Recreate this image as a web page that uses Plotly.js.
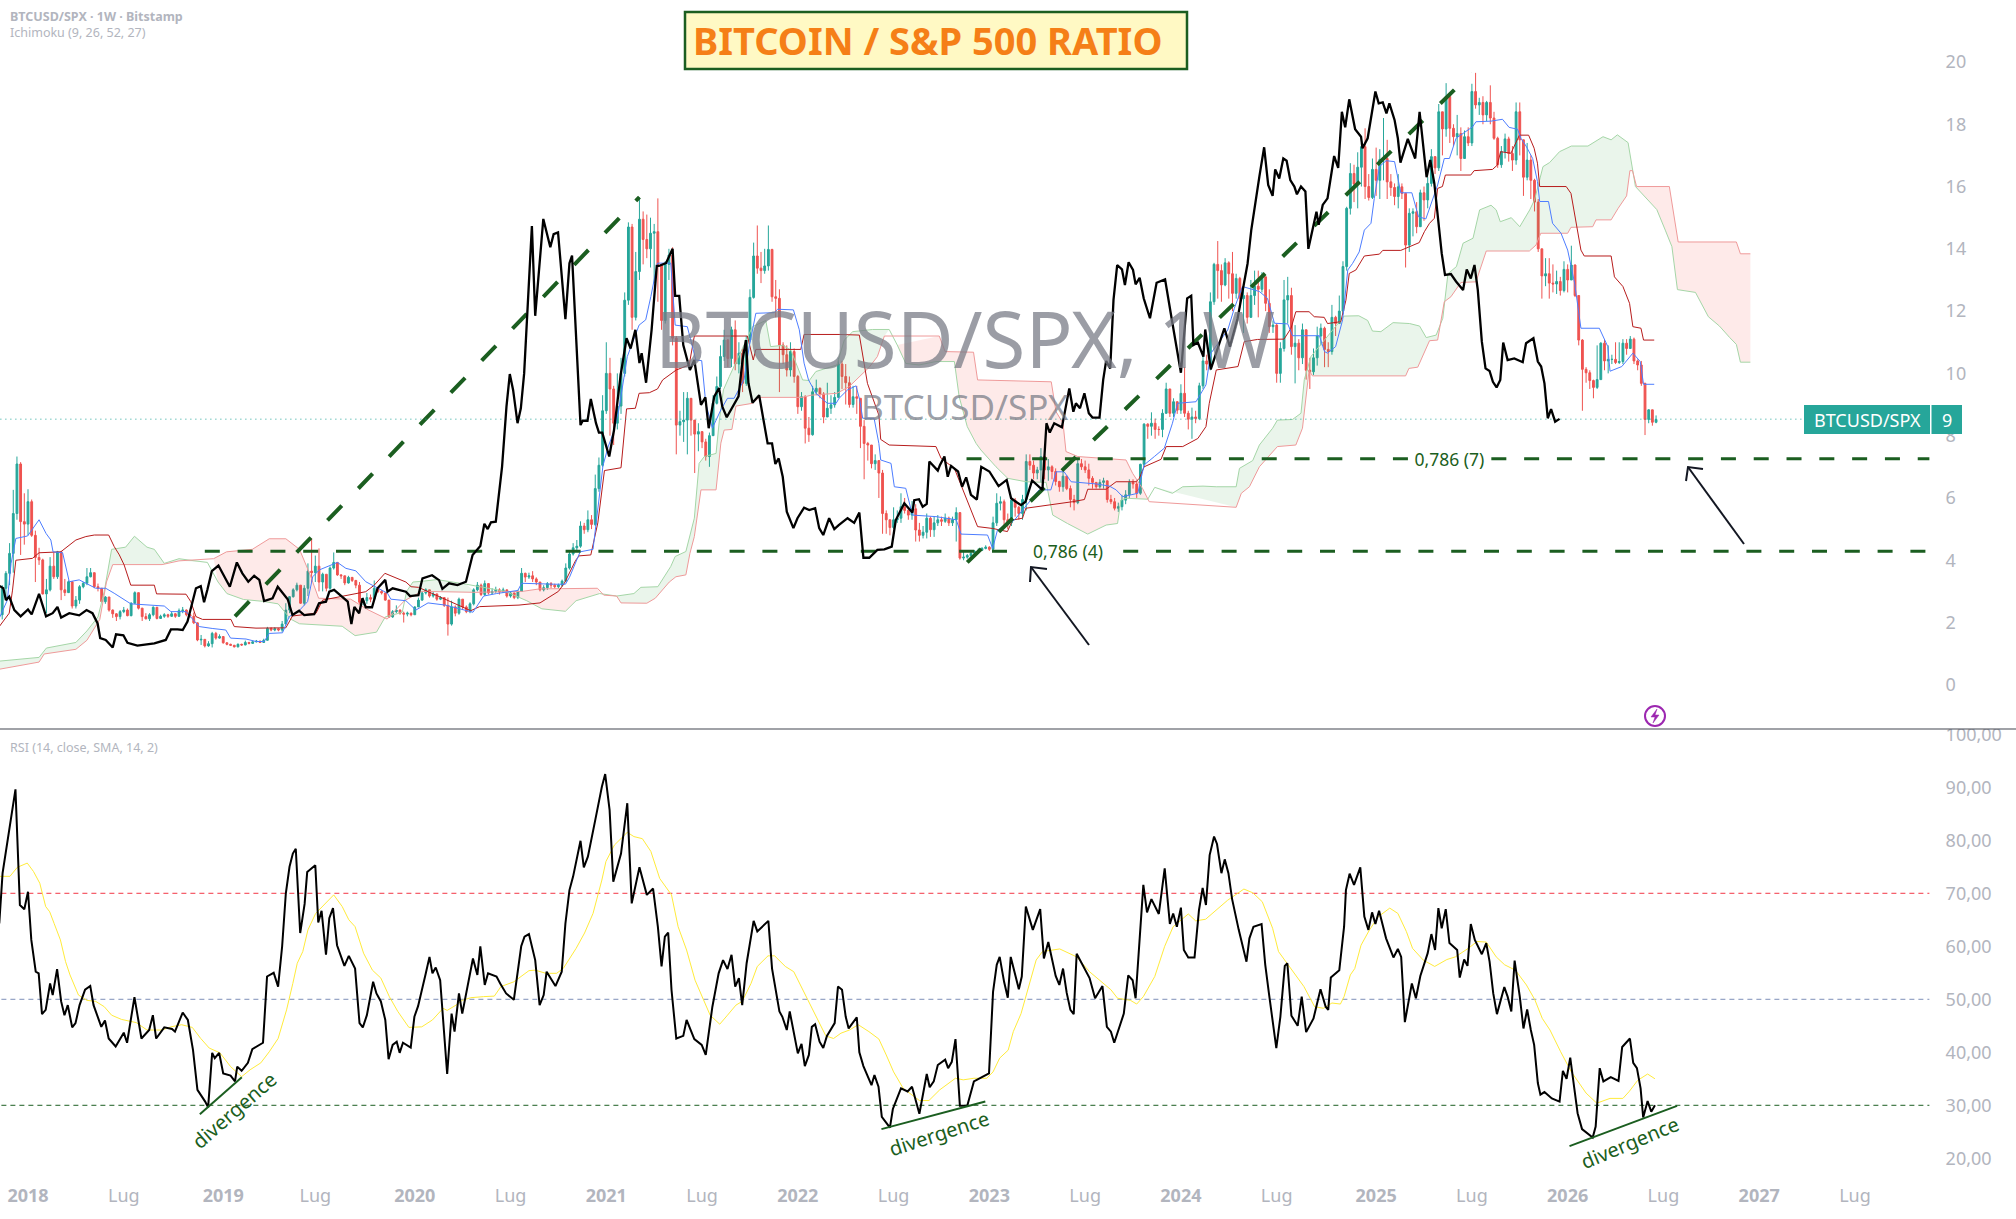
<!DOCTYPE html>
<html>
<head>
<meta charset="utf-8">
<script src="https://cdn.plot.ly/plotly-3.0.1.min.js"></script>
<style>html,body{margin:0;padding:0;background:#fff}#chart{width:2016px;height:1219px}</style>
</head>
<body>
<div id="chart"></div>
<script>
// All series are indexed by week number, week 0 = 2017-11-13.
const WEEK0 = Date.UTC(2017, 10, 13);
const toDate = (k) => new Date(WEEK0 + k * 7 * 864e5).toISOString();

// candles, ten per line
const closes = [
  3.1,3.58,4.22,5.5,7.09,5.24,5.16,5.88,4.8,4.09,
  4.01,2.92,3.05,3.81,3.47,4.27,3.05,2.96,3.31,2.53,
  2.72,3.15,3.26,3.47,3.6,3.15,3.1,2.67,2.82,2.4,
  2.28,2.19,2.35,2.4,2.22,2.62,2.96,2.46,2.19,2.12,
  2.25,2.49,2.13,2.2,2.25,2.2,2.28,2.2,2.38,2.4,
  2.25,2.2,1.99,1.44,1.46,1.25,1.32,1.65,1.5,1.55,
  1.35,1.3,1.27,1.22,1.3,1.28,1.36,1.33,1.38,1.4,
  1.36,1.43,1.81,1.76,1.8,1.76,1.95,2.4,2.83,3.05,
  3.2,2.62,3.1,3.65,3.6,3.81,3.3,3.55,3.1,3.75,
  3.93,3.53,3.5,3.27,3.45,3.35,3.2,2.65,2.7,2.8,
  2.75,3.1,3.0,2.95,2.72,2.18,2.35,2.4,2.3,2.27,
  2.3,2.25,2.5,2.72,2.95,3.05,2.85,2.92,2.75,2.8,
  2.55,1.95,2.5,2.3,2.75,2.5,2.35,2.6,3.05,3.2,
  2.9,3.25,2.95,3.0,3.05,2.98,3.05,2.85,2.95,2.8,
  3.0,3.58,3.46,3.5,3.4,3.3,3.05,3.12,3.25,3.2,
  3.15,3.2,3.33,3.75,4.2,4.4,4.45,5.1,4.98,5.3,
  5.15,6.3,7.05,8.8,10.0,9.5,8.4,8.95,10.0,12.35,
  14.7,11.8,13.27,14.95,14.3,14.0,14.5,14.55,13.5,11.7,
  13.5,13.8,11.13,8.34,8.45,8.5,9.2,8.5,8.05,8.13,
  7.8,7.33,8.0,9.04,9.58,10.54,11.07,10.48,11.4,10.3,
  10.65,9.68,11.07,12.44,13.77,13.38,13.3,13.45,13.98,12.46,
  12.41,10.91,10.6,10.11,10.7,9.9,8.93,9.25,8.24,8.03,
  9.41,9.52,9.34,8.6,8.88,8.99,9.23,10.3,9.9,9.7,
  9.0,9.25,9.2,8.3,7.75,7.7,7.1,7.2,6.8,5.5,
  5.3,5.05,5.3,5.35,5.72,5.6,5.45,5.65,4.97,4.8,
  4.9,5.35,4.98,5.2,5.3,5.25,5.35,5.2,5.3,5.53,
  4.07,4.1,4.15,4.22,4.28,4.32,4.38,4.42,4.35,5.2,
  5.83,5.88,5.3,5.2,5.93,5.7,5.5,5.95,7.17,7.05,
  6.8,6.9,7.33,6.9,7.0,6.85,6.53,6.36,6.7,6.3,
  5.95,5.85,7.1,7.0,6.9,6.63,6.5,6.36,6.5,6.55,
  5.95,5.88,5.67,5.72,5.93,6.1,6.5,6.45,6.15,7.08,
  8.37,8.3,8.4,8.2,8.2,8.72,9.5,8.72,9.09,8.82,
  9.36,8.72,8.53,8.6,8.55,9.6,10.4,10.3,12.3,13.5,
  13.3,12.84,13.55,13.2,12.57,13.05,12.4,12.5,11.8,12.5,
  12.8,12.7,13.1,12.25,11.5,11.55,10.0,10.8,12.36,12.5,
  10.86,10.97,10.5,11.4,10.1,10.05,10.5,11.2,11.45,10.77,
  10.7,11.8,11.6,12.0,13.43,15.3,16.42,16.08,16.62,17.28,
  16.0,15.65,16.55,16.2,16.87,16.9,16.15,15.97,15.68,15.99,
  15.78,14.12,15.14,15.19,14.71,15.8,15.57,16.1,16.96,16.6,
  18.4,17.85,18.89,17.87,17.6,17.7,16.9,17.6,17.4,19.05,
  18.62,18.7,18.3,18.7,18.2,17.55,16.7,17.12,17.53,17.06,
  16.85,18.4,17.5,16.3,16.85,16.2,15.5,14.0,13.13,13.2,
  12.9,12.87,12.95,12.66,13.34,13.0,13.48,12.5,11.07,10.13,
  10.02,9.77,9.55,9.8,10.97,10.4,10.45,10.45,10.35,10.38,
  10.97,10.8,11.1,10.4,10.27,9.68,8.52,8.83,8.43,8.52
];
const highs = [
  3.2,3.65,4.55,6.26,7.33,7.15,6.15,6.28,5.95,4.95,
  4.4,4.05,3.4,4.1,4.25,4.3,4.3,3.4,3.35,3.3,
  2.85,3.2,3.3,3.75,3.75,3.6,3.25,3.1,2.85,2.82,
  2.42,2.3,2.4,2.5,2.45,2.65,3.0,2.96,2.47,2.3,
  2.3,2.52,2.5,2.25,2.3,2.28,2.35,2.3,2.45,2.5,
  2.42,2.28,2.32,2.0,1.6,1.46,1.4,1.7,1.7,1.62,
  1.55,1.36,1.32,1.28,1.33,1.32,1.42,1.38,1.42,1.44,
  1.42,1.48,1.86,1.85,1.85,1.82,2.05,2.62,2.85,3.1,
  3.28,3.2,3.2,3.9,4.7,4.15,4.38,3.6,3.55,3.8,
  4.25,3.93,3.55,3.5,3.5,3.45,3.37,3.3,2.8,2.95,
  2.9,3.35,3.12,3.05,2.95,2.72,2.4,2.55,2.42,2.35,
  2.35,2.32,2.52,2.8,3.0,3.1,3.05,2.98,2.92,2.85,
  2.82,2.8,2.7,2.55,2.8,2.75,2.55,2.65,3.1,3.3,
  3.25,3.35,3.25,3.1,3.15,3.1,3.12,3.05,3.0,2.95,
  3.05,3.75,3.6,3.6,3.65,3.45,3.3,3.2,3.3,3.3,
  3.25,3.25,3.38,3.9,4.3,4.55,4.65,5.25,5.2,5.6,
  5.45,6.75,7.3,9.3,11.0,10.5,9.6,10.0,10.5,12.6,
  14.85,14.8,13.9,15.65,15.2,15.1,15.0,14.8,15.62,13.5,
  13.6,14.0,14.05,11.2,8.8,9.4,9.4,9.2,8.5,8.4,
  8.15,7.9,8.1,9.3,9.9,10.9,11.4,11.1,11.5,11.7,
  11.0,10.8,11.2,12.7,14.2,14.75,13.9,14.0,14.75,14.0,
  13.0,12.7,11.0,10.9,11.0,10.8,9.95,9.4,9.3,8.6,
  9.6,9.8,9.55,9.4,9.7,9.3,9.4,10.5,10.4,10.3,
  9.9,9.6,9.6,9.2,8.5,7.8,7.7,7.4,7.2,6.9,
  5.6,5.3,5.7,5.6,6.15,6.0,5.7,5.9,5.8,5.2,
  5.1,5.5,5.4,5.4,5.45,5.4,5.5,5.4,5.4,5.7,
  5.53,4.3,4.2,4.28,4.33,4.38,4.42,4.48,4.45,5.4,
  6.15,6.05,5.95,5.5,6.0,6.0,5.75,6.1,7.4,7.4,
  7.2,7.0,7.6,7.4,7.25,7.05,6.95,6.55,6.9,6.7,
  6.4,6.1,7.25,7.25,7.2,7.1,6.7,6.5,6.6,6.65,
  6.5,6.1,6.0,5.85,6.1,6.25,6.6,6.6,6.55,7.1,
  8.4,8.4,8.75,8.55,8.3,8.85,9.7,9.5,9.2,9.1,
  9.65,10.2,8.8,8.9,8.8,9.7,10.7,10.6,12.6,13.55,
  14.25,13.5,13.7,13.6,13.9,13.2,13.1,12.75,12.6,13.0,
  13.3,13.3,13.25,13.1,12.7,11.7,11.6,11.0,13.0,13.1,
  12.75,11.55,11.1,11.6,11.4,10.5,10.8,11.5,11.6,11.5,
  11.0,12.2,11.85,12.5,13.6,15.35,16.75,16.7,17.1,17.4,
  17.87,16.4,16.9,17.25,17.2,18.2,17.5,16.4,16.1,16.4,
  16.1,15.8,15.3,15.3,15.5,15.9,16.0,16.3,17.2,16.95,
  18.65,18.4,19.32,18.9,18.0,18.3,17.9,17.8,17.9,19.3,
  19.65,18.85,18.9,18.75,19.25,18.4,17.6,17.3,17.7,17.6,
  17.3,18.7,18.7,17.4,17.4,17.0,16.25,15.6,14.0,13.7,
  13.7,13.5,13.3,13.1,13.6,13.5,14.1,13.5,12.5,11.1,
  10.2,10.1,9.8,10.9,11.0,11.1,10.9,10.6,11.0,11.0,
  11.1,11.1,11.2,11.15,10.45,10.4,9.7,8.85,8.8,8.65
];
const lows = [
  2.1,2.75,3.2,3.6,5.3,4.17,4.5,4.8,4.75,3.3,
  3.85,2.9,2.3,3.0,3.4,3.4,2.72,2.85,2.95,2.45,
  2.45,2.6,3.1,3.2,3.45,3.1,3.0,2.65,2.6,2.35,
  2.15,2.05,2.1,2.3,2.2,2.2,2.6,2.42,2.05,2.1,
  2.05,2.2,2.1,2.12,2.15,2.15,2.18,2.15,2.18,2.3,
  2.2,2.15,1.95,1.4,1.28,1.2,1.22,1.2,1.45,1.48,
  1.32,1.27,1.25,1.2,1.2,1.25,1.27,1.3,1.32,1.36,
  1.34,1.35,1.42,1.72,1.72,1.72,1.7,1.95,2.3,2.8,
  3.0,2.6,2.55,2.85,3.3,3.3,3.0,3.0,3.0,3.05,
  3.7,3.5,3.4,3.2,3.25,3.3,3.1,2.6,2.55,2.6,
  2.65,2.7,2.95,2.9,2.7,2.15,2.15,2.3,2.25,2.0,
  2.2,2.2,2.25,2.5,2.7,2.9,2.8,2.8,2.7,2.72,
  2.5,1.58,1.9,2.2,2.25,2.4,2.3,2.3,2.55,3.0,
  2.85,2.85,2.9,2.9,2.95,2.9,2.95,2.8,2.8,2.75,
  2.75,3.0,3.3,3.4,3.3,3.2,3.0,3.0,3.05,3.1,
  3.1,3.1,3.15,3.3,3.7,4.15,4.3,4.4,4.85,4.9,
  5.0,5.1,6.2,7.0,8.7,8.0,7.7,8.2,8.7,9.9,
  12.2,11.4,11.7,13.0,13.5,13.7,13.4,12.9,12.3,11.4,
  11.6,13.0,10.9,7.4,8.0,7.8,7.4,8.0,6.8,7.5,
  7.6,7.2,7.0,8.0,9.0,9.5,10.4,10.2,10.2,10.1,
  10.0,9.4,9.6,11.0,12.4,13.2,12.9,13.2,13.3,12.3,
  11.8,9.4,10.3,9.9,9.9,9.7,8.7,8.8,7.75,7.8,
  8.0,9.3,9.2,8.4,8.6,8.7,8.9,9.2,9.5,9.0,
  8.9,8.9,8.7,7.6,6.6,7.2,6.95,6.9,6.0,4.85,
  4.85,4.8,5.0,5.2,5.2,5.5,5.3,5.3,4.6,4.6,
  4.7,4.7,4.75,4.75,5.1,5.1,5.2,5.1,5.1,4.6,
  4.02,4.0,4.05,4.1,4.2,4.25,4.3,4.35,4.3,4.3,
  5.1,5.6,5.1,5.0,5.1,5.4,5.3,5.3,5.6,6.9,
  6.6,6.6,6.5,6.6,6.55,6.6,6.4,6.2,6.2,6.25,
  5.7,5.6,5.8,6.9,6.8,6.4,6.3,6.3,6.3,6.3,
  5.85,5.8,5.6,5.55,5.6,5.8,6.0,6.3,6.0,6.1,
  7.0,7.9,8.0,7.9,8.0,7.95,8.7,8.6,8.6,8.7,
  8.7,8.6,8.2,7.9,8.4,8.5,9.5,10.1,10.1,12.2,
  12.4,12.3,12.8,12.4,12.0,12.4,12.1,11.3,11.6,11.9,
  12.2,11.8,12.6,12.0,11.3,11.3,9.7,9.7,10.7,11.6,
  10.6,9.68,10.1,10.3,9.8,9.5,9.95,10.25,10.9,10.2,
  10.2,10.6,11.2,11.6,11.9,13.3,15.1,15.5,15.3,16.0,
  15.6,15.55,15.6,15.7,15.6,16.2,15.6,15.7,15.4,15.3,
  15.6,13.4,13.9,14.4,14.5,14.9,14.9,15.3,16.0,16.4,
  16.5,17.0,17.6,17.4,17.3,17.0,16.5,16.9,17.3,17.3,
  18.5,18.3,18.0,18.1,18.0,17.5,16.6,16.6,16.9,16.8,
  16.5,16.7,17.0,15.7,16.2,15.6,15.2,13.9,12.4,12.8,
  12.4,12.6,12.55,12.5,12.6,12.6,13.0,12.45,10.9,8.8,
  9.7,9.5,9.2,9.5,9.8,10.1,10.0,10.3,10.3,10.3,
  10.3,10.6,10.8,10.3,10.1,9.6,8.02,8.4,8.32,8.4
];
const firstOpen = 2.25;
const candleWeeks = closes.map((_, i) => i);
// weekly bars open where the last one closed
const opens = closes.map((_, i) => (i ? closes[i - 1] : firstOpen));

// black overlay line
const overlayWeeks = [-0.8,0.3,1,1.9,3.3,5,7,8,10,11.9,13.7,15,16,18.2,20.9,22.9,24.5,25.9,26.6,28.1,30,30.9,32.9,34,36.7,41.3,44.4,45.8,47.6,49,50.3,51.2,52.6,53.9,54.8,55.7,56.9,58.7,59.8,61.8,63.7,65.2,66.8,68.4,69.8,71.1,73.4,74.8,77.5,78.8,80.6,82,84.7,86,87.9,88.8,90.1,91,93.8,94.8,95.6,96.9,97.8,98.7,100.4,101.9,104,104.6,106,109.6,110.7,113,114.1,116.7,118.6,119.5,121.3,123.6,125.9,127.7,129.8,130.9,131.8,132.7,134,135.7,136.9,137.8,138.7,139.9,140.8,141.7,143.8,144.7,146.9,148.8,149.7,150.9,152.9,154,154.7,157,157.6,158.9,159.8,161.2,162,162.9,163.8,164.8,166.1,167.9,169.5,170.6,171.9,173,173.6,174.8,176.3,177.7,178.3,180.2,182,182.7,183.8,184.9,186.7,187.9,189.7,190.9,191.8,193.3,194.6,195.5,196.7,198.7,199.9,201,201.9,202.6,203.7,205.5,206.9,207.8,209,209.9,210.8,211.9,213,214.8,215.9,217.7,219.1,220.7,221.8,222.9,224.5,225.9,227.1,229.5,231.3,232.7,233.8,235.4,237.6,239.5,241.5,242.6,244.9,247.1,247.6,248.9,249.9,251,251.7,254,254.6,255.8,256.7,257.6,259.5,260.6,261.7,263,264.6,265.8,268,270.5,272.7,273.9,275.2,276.6,277.8,279.6,282.4,283.5,284.4,285.6,287.7,289.7,290.8,291.5,292.6,293.8,295,296,297.9,298.9,299.7,300.8,301.7,302.7,304,304.8,305.8,307,307.7,308.8,309.9,311.6,313.4,315.7,317.7,320,321.7,322.8,323.4,324.6,326.1,326.6,328.1,331.8,333.3,335.4,338.1,339.1,341.3,342.6,343.7,344.9,345.6,346.7,347.8,348.7,349.7,350.8,351.5,352.6,353.8,354.6,356.8,357.4,358.5,359.8,361.6,362.7,363.7,364.6,365.7,367.3,368.9,369.3,370.7,372.8,373.7,374.8,375.8,376.6,378,378.9,379.6,381.6,383.6,384.8,386.7,387.7,388.8,389.7,390.8,391.7,393.3,394.7,396.6,397.6,398.7,399.7,400.6,401.7,402.7,403.8,404.7,405.7,406.7,407.5,408.7,410.5,412.8,413.7,415.7,416.9,417.8,418.7,419.6,420.5,421.6,422.8];
const overlayVals = [3.18,3.1,2.72,2.83,2.4,2.2,2.42,2.26,2.92,2.2,2.3,2.5,2.16,2.3,2.23,2.4,2.3,1.97,1.5,1.44,1.2,1.62,1.59,1.35,1.26,1.33,1.44,1.78,1.78,1.76,2.03,2.46,3.1,3.17,2.65,3.05,3.65,3.83,3.58,3.15,3.93,3.58,3.31,3.5,3.37,2.69,2.78,3.15,2.75,2.24,2.38,2.24,2.27,2.62,2.67,2.99,3.05,2.96,2.67,1.95,2.5,2.3,2.78,2.49,2.49,3.1,3.37,2.99,3.1,2.99,2.85,2.88,3.42,3.52,3.36,3.08,3.26,3.2,3.31,4.17,4.46,5.17,5.0,5.22,5.24,7.0,8.93,9.98,9.47,8.4,8.88,10.0,14.73,11.85,14.96,14.05,14.47,14.53,11.74,13.54,13.78,8.34,8.48,8.48,9.18,8.4,8.1,8.1,7.7,7.33,8.18,9.95,11.13,10.8,11.4,10.33,10.65,9.7,11.4,13.45,13.45,13.54,14.0,12.49,12.49,10.91,10.11,10.43,8.99,9.23,8.24,9.25,9.53,8.93,8.59,8.99,9.26,10.43,11.07,9.68,9.06,9.3,8.29,7.75,7.75,7.09,7.27,6.68,5.56,5.03,5.35,5.69,5.61,5.67,5.03,4.81,5.35,5.0,5.13,5.35,5.2,5.53,4.08,4.08,4.33,4.35,4.44,5.29,5.83,5.53,5.93,5.96,5.72,5.81,7.17,6.88,7.06,7.33,6.68,7.03,6.85,6.36,6.66,6.1,5.95,7.0,6.85,6.38,6.58,5.99,5.88,5.77,5.88,6.56,6.26,8.4,8.1,8.4,8.27,9.52,8.77,9.04,8.88,9.36,8.72,8.58,8.58,9.79,10.4,10.16,12.36,13.48,13.34,12.84,13.57,13.32,12.86,13.07,12.41,11.77,12.91,13.02,11.61,10.02,12.41,12.49,10.91,10.99,10.54,11.41,10.13,11.45,10.86,11.77,13.53,14.6,16.32,17.26,16.05,15.7,16.55,16.26,16.9,16.83,16.21,16.0,15.75,16.0,15.84,14.0,15.19,14.77,15.41,15.62,16.98,16.6,18.4,17.9,18.8,17.84,17.6,17.23,17.55,19.05,18.67,18.7,18.35,18.67,18.14,17.55,16.77,17.53,16.9,18.4,16.3,16.85,16.1,15.14,13.86,13.16,13.19,12.95,12.68,13.34,13.05,13.48,12.68,11.02,10.16,10.08,9.73,9.55,9.79,10.99,10.43,10.48,10.36,10.97,11.13,10.38,10.22,9.68,8.56,8.85,8.45,8.54];

// ichimoku
const tenkanWeeks = [-0.8,1.4,2.4,3.7,6.9,10,11.9,13.2,13.8,16.4,18.2,20.9,25.4,28.1,30.4,34.9,44,45.8,49.9,53.5,57,60.7,62,66.2,68.9,71.1,72.5,76.1,77.9,80.6,82.9,84.3,86.1,91,93.3,96,98.7,101.4,104.6,105.5,109.6,112.3,115.6,120.3,127.8,130.7,134.2,140,141,150,152.9,154,156.9,160.4,161.6,163.1,164.5,165.9,167.4,169.7,172.9,174.7,176.1,177.9,181.5,182.7,186,188.3,189.9,191,192.8,195.1,196.9,198.7,201.4,202.8,204.6,209.6,210.5,214.8,216.4,217.7,218.9,220.9,224,226.4,227.2,229.5,231.8,232.8,233.6,236.7,238,238.5,241.3,242.2,245.3,247.1,253.5,259,260.3,267.5,268.9,270.2,274.8,281.5,284.7,286.1,288.3,290.2,297,300.6,302.4,304.2,308.3,310,312.8,315.5,317.7,319.1,324.1,326.8,328.1,332.7,334.5,336.7,341.3,343.5,345.4,349,350.3,357.6,359,359.8,362,363.9,365.3,366.6,368.4,369.8,371.6,372.5,373.9,375.7,378,379.1,379.7,382.7,384.5,386.5,387.9,389.7,391.5,392.9,394.7,399.2,400.1,404.2,407.3,409.1,411.4,412.3,413.7,415.5,416.8,417.4,419.8,420.9,423.2,425,426.9,428.6,433.6,435.9,436.5,439.7,442.7,444.7,445.6,448.5];
const tenkanVals = [2.14,2.72,3.9,4.7,4.78,5.3,4.86,4.65,4.27,4.24,3.31,3.37,3.1,3.1,2.94,2.6,2.53,2.35,2.35,1.87,1.81,1.76,1.5,1.47,1.39,1.39,1.65,1.67,2.19,2.38,2.67,3.47,3.69,3.93,3.74,3.66,3.31,3.15,2.94,2.75,2.7,2.4,2.63,2.56,2.33,2.85,2.93,3.03,3.26,3.23,3.23,3.45,4.27,4.35,5.55,7.04,7.64,8.09,8.83,10.54,11.55,11.72,12.47,13.54,13.54,11.55,11.5,10.43,10.41,9.04,8.24,8.83,9.2,9.2,9.8,10.86,11.93,11.95,12.06,12.04,11.4,10.33,9.79,9.36,9.04,9.04,9.2,9.47,9.6,9.15,8.56,8.56,7.75,7.22,7.11,6.36,6.31,5.45,5.4,5.3,4.84,4.81,4.38,4.97,5.29,6.26,6.26,6.84,6.84,6.52,6.45,6.38,6.26,6.04,6.15,7.06,7.33,7.6,8.4,9.04,9.09,9.63,10.64,11.39,12.09,12.79,12.63,12.41,11.61,11.59,11.21,11.21,10.7,10.65,10.86,11.72,13.32,13.53,13.9,14.6,14.82,15.62,16.64,16.83,16.8,16.2,15.8,15.8,15.03,14.96,15.46,16.05,16.9,16.9,17.55,17.92,18.08,18.1,18.16,17.9,17.84,17.55,17.3,16.9,16.16,15.52,15.52,14.82,14.5,13.96,12.89,11.45,11.45,10.86,10.07,10.22,10.65,10.38,9.65,9.65];
const kijunWeeks = [-0.8,1.9,2.8,3.7,8.2,10,15.9,20,22.7,25,28.9,30.4,31.8,33.1,34.9,41.3,41.9,49.9,51.2,52.6,54.4,62.1,63,68.9,77,78.8,85.2,87,98.7,101,103.9,109.6,111,113,127.2,129.6,140.3,146,151,152.6,155.7,156.6,159.8,161.7,163.5,168,169.5,171.9,172.9,175.7,177.9,179.3,183,186.5,187.9,202.3,203.9,204.6,216.8,217.7,227.2,232.7,234.9,238,238.5,240.8,253.5,254.9,258.5,262,264.8,268.9,272.9,274.3,277,277.9,284.7,290.6,293.8,294.7,299.7,302.4,307.8,308.7,310,314.6,316,320.5,324.6,326.8,327.7,329.6,335.5,337.2,340.8,348,349.9,351.2,354.8,356.2,358.9,359.8,363.4,364.8,365.7,367.5,369.8,373.9,374.8,379.7,384.7,386.1,387.5,388.8,389.7,391,391.8,398.7,399.6,404.6,405.9,406.8,409.6,411.9,414.4,415.9,416.8,417.4,424.6,425.9,428.6,429.5,436.8,437.7,440,441.8,442.7,444.9,445.6,448.5];
const kijunVals = [1.87,2.3,3.04,4.0,4.06,4.24,4.27,4.65,4.76,4.81,4.81,4.44,4.17,3.85,3.2,3.2,2.92,2.91,2.67,2.19,2.1,2.1,1.87,1.82,1.83,2.21,2.3,2.72,2.99,3.2,3.58,3.3,3.15,3.13,2.38,2.51,2.56,2.63,3.0,3.26,4.0,4.14,4.17,5.2,6.88,6.97,8.86,8.88,9.36,9.38,9.5,9.79,10.11,10.27,11.2,11.2,10.43,10.77,10.77,11.25,11.25,11.23,9.68,8.66,7.88,7.7,7.65,7.27,6.95,5.88,5.08,5.02,4.92,5.29,5.35,5.67,5.77,5.88,5.95,6.28,6.28,6.52,6.52,6.63,7.0,7.24,7.65,7.65,7.91,8.29,9.04,10.11,10.22,11.02,11.09,11.1,11.45,11.98,11.98,11.82,11.8,11.6,11.66,12.35,13.21,13.32,13.77,13.83,13.95,13.95,14.2,14.55,14.82,14.98,15.94,16.0,16.37,16.37,16.51,16.55,16.69,17.12,17.07,17.65,17.65,17.23,16.75,16.0,16.0,15.78,13.96,13.77,13.77,13.1,12.79,12.25,11.5,11.45,11.07,11.07];
const spanAWeeks = [-0.8,10,12,20,23,26,27.7,29.7,33.5,35.9,39.3,41.3,44,48,51,55.7,58.6,61,65.5,70.8,74.9,78.3,80.7,92.3,95.8,101.6,104,108.6,109.8,111.5,114.4,118,126,136.6,142.4,146.5,152.9,155.8,162.2,166.8,171.5,173.4,178,181.5,182.7,185.6,187.9,189.2,190.6,193.8,194.7,195.8,197.4,203.7,207.3,208.6,211.9,214.1,217.3,219.1,220.9,226.6,228.6,230.9,236.3,240.8,243,245.3,248.9,253.5,258.5,259.8,262,264.4,265.7,269.8,273,278,283.4,285.2,289.2,294.7,299.7,302.8,303.7,305.1,311,312.9,317.7,320.5,326,329.6,335,335.9,339.5,341.3,344.9,346.2,350.3,352.6,353.5,355.3,364.3,368.3,370.7,372,374.3,377.6,382.1,384.8,386.6,389.3,391.1,392.5,394.8,396.6,399.3,401.1,404.2,405.6,406.7,409.7,412,414.7,416,418.3,420.1,422.8,426,430.5,434.6,436.8,438.5,441.4,443.4,445.7,449.2,451.5,453.3,454.8,459.7,463.2,466.2,469,470.8,471.9,474.6];
const spanAVals = [0.76,0.88,1.18,1.36,1.73,2.18,3.0,4.35,4.42,4.77,4.42,4.35,3.9,4.05,4.0,3.93,3.3,2.93,2.74,2.68,2.6,2.11,1.96,1.88,1.58,1.69,2.18,2.33,3.0,3.3,3.33,3.38,3.23,3.0,2.7,2.44,2.36,2.7,2.93,2.85,2.93,3.13,3.15,3.8,4.12,4.28,5.35,7.11,7.33,7.43,8.5,9.47,9.9,11.5,11.7,10.86,10.9,10.75,9.79,9.77,10.06,10.27,11.07,11.34,11.41,11.41,10.91,10.32,10.27,10.38,10.38,9.25,8.29,7.75,7.54,7.0,6.63,6.52,6.5,5.45,5.18,4.84,5.13,5.18,5.93,5.99,5.96,6.34,6.15,6.36,6.38,6.36,6.36,6.95,7.2,7.7,8.24,8.5,8.52,8.72,9.8,10.54,11.84,11.85,11.7,11.36,11.34,11.63,11.6,11.52,11.15,11.23,11.77,13.2,13.43,14.18,14.34,15.25,15.4,15.25,14.87,15.0,14.71,15.25,15.57,16.64,16.77,17.12,17.3,17.3,17.6,17.5,17.66,17.41,16.0,15.7,15.26,14.6,14.07,12.69,12.6,11.82,11.52,11.15,10.93,10.36,10.36];
const spanBWeeks = [-0.8,10,11.4,20,23,26.5,28.3,30,43.4,48,57.4,60.9,67.9,72.5,77,80.7,83.6,85.9,94.6,99.3,104.5,109.2,113.9,128.4,141.2,145.9,161.6,163.3,166.8,168,175,177.3,181.1,182.9,185.6,186.7,187.9,189.7,193.8,195.1,196,198.1,199.2,202.3,203.7,205.5,217.3,219.6,226.6,229.9,232.7,235.4,237.6,239.5,254.4,256,263.7,264.8,284.8,286.1,288,288.8,292,305.1,306.9,309.6,311.4,335,336.4,338.6,341.3,346.2,351.2,353,354.8,355.7,381,381.9,384.3,386.4,387.5,389.7,391.5,393.3,396,400.1,401.4,402.9,414.6,416.4,417.7,425,425.9,431.8,432.7,436.8,438.7,441,441.9,442.6,443.7,452.6,455,470.8,471.9,474.6];
const spanBVals = [0.5,0.73,0.99,1.14,1.43,2.1,3.3,3.86,3.86,3.98,4.05,4.27,4.35,4.69,4.69,4.35,3.53,2.78,2.75,2.41,2.11,2.7,3.0,2.97,3.0,3.08,3.1,2.88,2.85,2.63,2.62,2.78,3.3,3.47,3.53,4.22,4.76,6.26,6.26,7.76,8.18,8.2,8.95,9.0,9.04,9.23,9.23,9.3,9.36,9.57,9.9,10.2,10.54,11.2,11.2,10.7,10.68,9.79,9.73,8.77,8.4,7.49,7.33,7.22,6.79,6.3,5.88,5.7,6.15,6.36,7.0,7.65,7.7,8.24,10.1,9.92,9.92,10.16,10.2,10.75,11.05,11.07,12.3,12.46,12.92,12.94,13.43,13.93,13.93,14.12,14.5,14.5,14.69,14.71,14.93,14.93,15.3,15.7,16.51,16.51,16.0,16.0,14.22,14.22,13.84,13.84];
// week spans of the cloud and which colour it has there
const cloudFrom = [-0.8,44,56,109,136,163,242,311.5,443];
const cloudTo = [44,56,109,136,163,242,311.5,443,474.6];
const cloudGreen = [true,true,false,true,false,true,false,true,false];

// rsi pane
const rsiWeeks = [-0.8,0.1,3.6,4.8,6,7,7.9,9.1,9.9,10.8,11.8,13,13.7,14.9,16,16.9,17.8,19,19.9,21,22.5,23.9,24.8,26.9,27.9,28.9,30.8,33,33.9,35.9,37.8,39.9,40.9,41.8,44,46.1,46.9,49,50.4,51.8,53,55.1,55.9,57,57.7,58.9,60,62,63.2,63.8,65,66.7,67.9,70.8,71.9,73.7,74.9,76,77,78,78.9,79.7,80.9,82.1,82.8,85,85.8,86.7,87.9,88.8,89.8,90.9,92.9,94.1,95.8,97,97.9,99,100.7,101.6,102.8,104,104.9,106,107.1,107.9,108.8,110.9,111.9,112.9,115,116,116.8,117.7,118.9,120.8,122,122.8,124,124.9,127.8,129,129.8,131,131.9,134.2,135.2,136.8,138.9,140.9,141.8,143,144.7,145.9,147,147.8,150.2,151.9,152.9,154,155,157,157.9,159,161,162.8,163.7,164.9,165.9,168,169.7,170.9,173,175,176.7,178,179,179.9,180.8,181.7,183,184.9,185.8,187,187.9,189.9,191,192.8,194.5,195.7,196.9,198,199,200,200.9,202.1,204,205,208,209,211,211.8,213,213.8,216,217,217.9,219,219.8,220.7,221.9,222.9,223.9,226,226.9,228,229,229.8,232,232.7,233.8,236,236.8,237.9,238.8,241,241.8,244,245.8,247,249,251,251.8,252.9,254,256,256.8,257.8,258.8,260,262,263.8,265.6,267.9,269,270,270.8,272,273,273.8,276,276.8,277.9,279.8,281.8,282.8,284,286,287,288,289,290,290.9,291.7,295.2,296.7,298.7,299.9,301,301.9,304.5,305.7,306.9,307.7,309.8,310.8,312,314,315.6,317,317.9,318.9,320,320.8,322,323.7,324.9,325.9,326.8,327.8,329,329.8,331,331.9,332.9,333.9,335.7,337.8,338.6,339.7,341.9,342.9,343.9,345.9,347,348.2,348.9,350,351.7,352.8,354,356,357.9,359.3,360,360.7,363,364.3,364.8,365.8,367,368.7,369.8,370.9,371.9,372.8,373.8,375.7,377.7,378.9,379.8,380.8,382.7,383.8,385,387,388,389,389.9,390.8,391.9,392.9,395,395.7,396.9,397.8,398.7,399.8,401.7,402.9,403.8,404.8,405.8,407.8,408.7,409.7,410.6,412,413,414,415,415.9,416.9,417.6,418.7,420.7,422.8,423.7,424.7,425.7,426.8,427.7,428.9,431.8,432.6,433.7,434.7,436.7,438.8,439.8,441.9,442.8,443.8,444.8,445.5,446.7,447.7,448.7];
const rsiVals = [64.3,73.8,89.6,67.8,67,70.3,61.2,55.2,54.9,47.2,48,53,50.8,55.7,49.6,47,48.9,44.7,45.5,48.9,51.8,52.5,48.9,44.8,46,42.6,41.1,43.7,41.8,50.4,42.6,44.2,47,42.6,44.7,44.4,43.9,47.5,46.1,40.4,32.9,30.7,29.6,39.9,38.9,39.9,36,35.6,34.5,37.3,36.5,38,40.6,41.8,54.3,55,52.4,60,70,75,77.5,78.4,62.5,68,74,75.3,64.5,66.7,58.4,65.3,67.2,60.2,56.3,58.2,55.8,45.5,44.7,47,53.3,51.1,49.6,46.1,38.7,41.4,42,39.9,41.8,40.9,46.7,48.7,54.9,58,54.9,56,53.6,35.9,47.3,43.9,51.1,47.3,57.7,54.6,60,52.7,54.9,54.3,53,51.1,49.9,60,61.8,62.3,57.4,48.9,50.8,55.2,52.5,55.2,64.3,70.6,73.2,79.9,74.9,76.9,83.8,90.1,92.5,85.7,72.2,77.5,87,68.1,74.9,69.7,70.9,63.7,56.2,61.8,62.6,51.8,42.6,43.1,46.1,43.9,42.5,41.4,39.5,48.6,54.9,57.4,55.7,58.4,52.4,54,48.9,56.8,64.8,62.8,64.8,55.8,47.7,46.7,44.2,47.7,39.8,41.6,37.4,39.5,44.8,45.3,42,40.8,43.1,45.5,52.4,51.8,46.7,44.5,46.6,40,37.4,33.8,35.7,33.5,27.8,25.8,29.3,33.2,32.6,33.5,28.4,35.9,33.4,34.5,37.6,38.6,37,38.2,42.5,29.9,29.9,34.5,35.1,36,51.4,56.5,58,53.3,50.3,58,51.9,54.3,67.5,63.1,67,57.7,60.8,54.4,52.7,55.8,51.2,48,47.2,58.6,54,50.2,52.5,44.8,43.9,41.8,47.3,54.5,53.6,50.2,71.6,66.4,68.9,66.1,74.7,64.2,66.2,63.7,67.3,59.3,57.9,57.9,66.8,71,67.8,77.2,80.7,79.3,73.8,76.4,73.8,68.9,63.1,57.1,61.5,63.7,64.2,56.5,51.1,40.8,46.7,56.3,56.8,46.9,45,50.5,43.8,46.4,51.9,48.6,48,54.1,55.5,63.7,70.6,73.7,71.6,74.9,65.6,63.1,66.4,64.2,66.7,61.5,57.9,59.5,58,45.7,53,50.2,54.4,58.7,62.3,59.3,67.2,63.4,67,60.6,59.3,54.1,57.5,56.3,64.2,61.2,58.5,60.6,57.1,51.1,47.2,52.3,50.5,47.7,57.3,50.5,44.5,48.1,44.2,41.4,34.2,32,32.5,31.3,30.7,36.5,35,39,33.2,28.5,25.5,23.9,26,37,34.5,35.3,34.6,41,42.6,38,37,33.2,27.7,30.8,28.8,30];
const signalWeeks = [-0.8,2.1,4.1,6.8,8.5,10.2,11.8,12.9,14.1,15.8,17.2,18.4,20.7,23,25.4,27.7,29.7,32.4,36.4,39.3,43.4,45.8,48.7,51.6,53.9,56.2,59.1,62,65,67.3,70.2,72.5,74.9,77.2,78.9,80.1,81.6,83,85.1,87.7,90,92.3,94.1,95.8,98.1,100.5,102.8,105.1,107.4,110.4,113.9,116.8,119.7,120.8,123.2,124.9,127.2,130.7,133.6,135.4,138.9,143,144.7,147.6,150.5,152.3,155.8,158.1,160.4,162.8,163.9,166.2,169.7,171.5,173.8,176.1,178.5,181.7,183.5,185.8,188.1,192.2,194.8,196.9,199.2,200.9,203.3,205,207.9,209.7,212.6,214.9,217.8,221.3,223.6,225.7,227.7,230,232.4,235.3,238,240,242,244.6,246.9,249,251.6,254.5,258.8,260.9,263.8,267.3,269,270.8,273.1,274.5,276.6,278.3,280.7,282.4,287.1,291.7,295.2,301,302.8,306.3,308,309.8,312.9,315.6,317.9,322,324,326.7,329.6,332.7,337.1,339.5,342.1,344.9,346.5,348.8,353.4,356.3,358.7,361,363.3,364.3,366,367.2,368.9,371.2,373.6,376.7,378.9,381.2,382.9,385.8,388.9,392.2,394.5,398,400.4,402.9,405.6,407.9,410.8,413.8,416.1,418.1,420.2,423.1,426,430,432.9,436.5,440,441.7,444,446.7,448.7];
const signalVals = [73.2,73.2,74.9,75.7,74.1,71.9,67.5,66.5,64.3,61.2,57.1,54.6,50.8,49.8,49.6,48.6,47,46.2,45.6,44.2,44.2,44.8,45.2,44.7,42.6,40.8,39.9,37.3,35.4,36.7,38,40.1,42.6,48,53,56.8,59,63.1,66.2,68.1,69.7,67.5,65,63.7,58.7,55.5,54,50.5,47.7,44.7,44.8,46.1,48.3,47.9,48.9,49.8,50.3,50.5,50.6,52.4,53.3,55.4,55.5,54.9,54.9,55.8,59.6,62.5,66.2,72.5,76,79.1,81.5,80.7,80.3,77.9,72.8,69.7,63.7,59.3,53.6,47,45.3,47,48.9,49.6,53,56.2,58.2,58.2,56.2,55.2,51.1,46.1,43.1,42.6,43.6,44.2,45.2,43.9,42.5,39.5,36.3,33.2,32,30.9,30.9,32.9,35.1,34.8,35.1,35.1,36.3,38.9,40.4,43.9,47.3,51.4,57.4,59,59.5,58,55.2,51.8,50.2,49.8,49.1,50.5,54.3,60,63.7,66.1,64.8,65.1,66.8,68.7,70.8,70.1,68.4,63.4,59,56.8,52.4,48.6,48.3,49.3,49.1,50.5,54.6,55.8,60.2,63.1,65.6,67.2,66.2,62.8,59.6,57.4,56.2,57.5,58,59.6,60.9,60.8,58,56.5,55.5,52.7,49.9,46.4,44.2,40.1,36.3,32.3,30.4,31.3,31.3,32.6,34.7,35.9,35];

// drawn lines: [from week, to week], [from value, to value]
const paneWeeks = [-10, 523.2];
const fibWeeks = [55, 523.2];
const fib4 = 4.29;
const fib7Weeks = [261.8, 523.2];
const fib7 = 7.26;
const lastPrice = 8.53;
const trend1Weeks = [63.2, 173];
const trend1Vals = [2.2, 15.66];
const trend2Weeks = [262, 399];
const trend2Vals = [3.93, 19.65];
const divWeeks = [[53.65, 65.05], [238.7, 266.9], [425.5, 454.7]];
const divVals = [[28.3, 35.3], [25.5, 30.7], [22.3, 29.9]];
const rsiLevels = [70, 50, 30];
const rsiLevelColors = ["#f23645", "#7d8fb8", "#1b5e20"];

const priceTicks = [0, 2, 4, 6, 8, 10, 12, 14, 16, 18, 20];
const rsiTicks = [20, 30, 40, 50, 60, 70, 80, 90, 100];
const rsiTickText = rsiTicks.map((v) => v + ",00");
const timeTicks = ["2018-01-01","2018-07-02","2019-01-07","2019-07-01","2020-01-06","2020-07-06","2021-01-04","2021-07-05","2022-01-03","2022-07-04","2023-01-02","2023-07-03","2024-01-01","2024-07-01","2025-01-06","2025-07-07","2026-01-05","2026-07-06","2027-01-04","2027-07-05"];
const timeLabels = ["<b>2018</b>","Lug","<b>2019</b>","Lug","<b>2020</b>","Lug","<b>2021</b>","Lug","<b>2022</b>","Lug","<b>2023</b>","Lug","<b>2024</b>","Lug","<b>2025</b>","Lug","<b>2026</b>","Lug","<b>2027</b>","Lug"];

const W = 2016, H = 1219;
const FONT = '"Noto Sans", sans-serif';
const GREEN = "#1b5e20";
const TICK = "#b2b5be";
const fx = (px) => px / W;
const fy = (py) => 1 - py / H;

function line(weeks, vals, color, width, extra) {
  return {
    x: weeks.map(toDate), y: vals, type: "scatter", mode: "lines", hoverinfo: "skip", showlegend: false,
    line: { color, width, ...(extra || {}) },
  };
}

function cloudTrace(i) {
  const inSpan = (k) => k >= cloudFrom[i] && k <= cloudTo[i];
  const a = spanAWeeks.map((k, j) => [k, spanAVals[j]]).filter((p) => inSpan(p[0]));
  const b = spanBWeeks.map((k, j) => [k, spanBVals[j]]).filter((p) => inSpan(p[0])).reverse();
  const pts = a.concat(b);
  return {
    x: pts.map((p) => toDate(p[0])), y: pts.map((p) => p[1]), type: "scatter", mode: "lines", fill: "toself",
    fillcolor: cloudGreen[i] ? "rgba(67,160,71,0.11)" : "rgba(244,67,54,0.11)",
    line: { width: 0, color: "rgba(0,0,0,0)" }, hoverinfo: "skip", showlegend: false,
  };
}

const traces = [
  {
    x: candleWeeks.map(toDate), open: opens, high: highs, low: lows, close: closes, type: "candlestick",
    increasing: { line: { color: "#26a69a", width: 1 }, fillcolor: "#26a69a" },
    decreasing: { line: { color: "#ef5350", width: 1 }, fillcolor: "#ef5350" },
    whiskerwidth: 0, hoverinfo: "skip", showlegend: false,
  },
  ...cloudFrom.map((_, i) => cloudTrace(i)),
  line(spanAWeeks, spanAVals, "#a5d6a7", 1),
  line(spanBWeeks, spanBVals, "#ef9a9a", 1),
  line(kijunWeeks, kijunVals, "#b71c1c", 1),
  line(tenkanWeeks, tenkanVals, "#4d7dff", 1),
  line(fibWeeks, [fib4, fib4], GREEN, 3, { dash: "15px,17.8px" }),
  line(fib7Weeks, [fib7, fib7], GREEN, 3, { dash: "15px,17.8px" }),
  line(trend1Weeks, trend1Vals, GREEN, 4, { dash: "20.6px,23.8px" }),
  line(trend2Weeks, trend2Vals, GREEN, 4, { dash: "19.5px,24.44px" }),
  line(paneWeeks, [lastPrice, lastPrice], "#26a69a", 1, { dash: "1px,4px" }),
  line(overlayWeeks, overlayVals, "#000000", 2.3),
];
rsiLevels.forEach((v, i) => {
  traces.push({ ...line(paneWeeks, [v, v], rsiLevelColors[i], 1, { dash: "5px,4px" }), yaxis: "y2" });
});
traces.push({ ...line(signalWeeks, signalVals, "#ffeb3b", 1), yaxis: "y2" });
traces.push({ ...line(rsiWeeks, rsiVals, "#000000", 2), yaxis: "y2" });
divWeeks.forEach((w, i) => {
  traces.push({ ...line(w, divVals[i], GREEN, 2), yaxis: "y2" });
});

const note = (text, px, py, size, color, opts) => ({
  text, x: fx(px), y: fy(py), xref: "paper", yref: "paper", showarrow: false, xanchor: "center", yanchor: "middle",
  font: { family: FONT, size, color }, ...(opts || {}),
});
const polyline = (pts) => "M" + pts.map((p) => fx(p[0]) + "," + fy(p[1])).join(" L");
const paperShape = (o) => ({ xref: "paper", yref: "paper", ...o });
const rect = (x0, y0, x1, y1, fill, lineColor, width) => paperShape({
  type: "rect", x0: fx(x0), x1: fx(x1), y0: fy(y0), y1: fy(y1), fillcolor: fill,
  line: { color: lineColor || fill, width: width || 0 },
});
const arrowLine = { color: "#131722", width: 2 };

const layout = {
  width: W, height: H, autosize: false, paper_bgcolor: "#ffffff", plot_bgcolor: "rgba(0,0,0,0)",
  margin: { l: 0, r: 0, t: 0, b: 0 }, showlegend: false, hovermode: false,
  font: { family: FONT, color: TICK, size: 18 },
  xaxis: {
    domain: [0, 1930 / W], type: "date", range: ["2017-11-08 19:00", "2027-11-24 14:00"], anchor: "y2",
    rangeslider: { visible: false }, showgrid: false, zeroline: false, showline: false,
    tickmode: "array", tickvals: timeTicks, ticktext: timeLabels, ticks: "outside", ticklen: 9, tickcolor: "rgba(0,0,0,0)",
    tickfont: { family: FONT, size: 18, color: TICK },
  },
  yaxis: {
    domain: [1 - 729 / H, 1], range: [-1.419, 21.99], side: "right", anchor: "x", showgrid: false, zeroline: false,
    tickmode: "array", tickvals: priceTicks, ticks: "outside", ticklen: 11, tickcolor: "rgba(0,0,0,0)",
    tickfont: { family: FONT, size: 18, color: TICK },
  },
  yaxis2: {
    domain: [49 / H, 489 / H], range: [17.79, 100.81], side: "right", anchor: "x", showgrid: false, zeroline: false,
    tickmode: "array", tickvals: rsiTicks, ticktext: rsiTickText, ticks: "outside", ticklen: 11, tickcolor: "rgba(0,0,0,0)",
    tickfont: { family: FONT, size: 18, color: TICK },
  },
  shapes: [
    rect(1930, 718, W, 729, "#ffffff"),
    paperShape({ type: "line", x0: 0, x1: 1, y0: fy(729), y1: fy(729), line: { color: "#434651", width: 1.2 } }),
    rect(685, 12, 1187, 69, "#fff9c4", GREEN, 2.5),
    rect(1804, 405, 1930, 434, "#26a69a"),
    rect(1931.5, 405, 1962, 434, "#26a69a"),
    paperShape({ type: "path", path: polyline([[1089, 645], [1031, 567]]), line: arrowLine }),
    paperShape({ type: "path", path: polyline([[1047, 569], [1031, 567], [1030, 582]]), line: arrowLine }),
    paperShape({ type: "path", path: polyline([[1744, 544], [1688, 467]]), line: arrowLine }),
    paperShape({ type: "path", path: polyline([[1703, 469], [1688, 467], [1686, 481]]), line: arrowLine }),
    paperShape({ type: "circle", x0: fx(1645), x1: fx(1665), y0: fy(706), y1: fy(726), line: { color: "#9c27b0", width: 2 } }),
    paperShape({ type: "path", path: polyline([[1657, 709], [1651, 717], [1655, 717], [1653, 723], [1659, 715], [1655, 715]]) + " Z", fillcolor: "#9c27b0", line: { color: "#9c27b0", width: 0.5 } }),
  ],
  annotations: [
    note("BTCUSD/SPX, 1W", 965, 338, 78, "rgba(120,123,134,0.74)"),
    note("BTCUSD/SPX", 965, 406, 35, "rgba(120,123,134,0.74)"),
    note("<b>BITCOIN / S&amp;P 500 RATIO</b>", 927, 40, 38, "#f57f17"),
    note("<b>BTCUSD/SPX · 1W · Bitstamp</b>", 8, 16, 12.5, TICK, { xanchor: "left" }),
    note("Ichimoku (9, 26, 52, 27)", 8, 33, 12.5, TICK, { xanchor: "left" }),
    note("RSI (14, close, SMA, 14, 2)", 8, 747, 12.5, TICK, { xanchor: "left" }),
    note("BTCUSD/SPX", 1867, 420, 18, "#ffffff"),
    note("9", 1947, 420, 18, "#ffffff"),
    note("&nbsp;&nbsp;0,786 (4)&nbsp;&nbsp;", 1068, 551.2, 17.5, GREEN, { bgcolor: "#ffffff", borderpad: 0 }),
    note("&nbsp;0,786 (7)&nbsp;", 1449, 458.7, 17.5, GREEN, { bgcolor: "#ffffff", borderpad: 0 }),
    note("divergence", 233.6, 1110, 20, GREEN, { textangle: -41 }),
    note("divergence", 938.6, 1133, 20, GREEN, { textangle: -18 }),
    note("divergence", 1630, 1142.7, 20, GREEN, { textangle: -22.6 }),
  ],
};

Plotly.newPlot("chart", traces, layout, { displayModeBar: false, staticPlot: true });
</script>
</body>
</html>
